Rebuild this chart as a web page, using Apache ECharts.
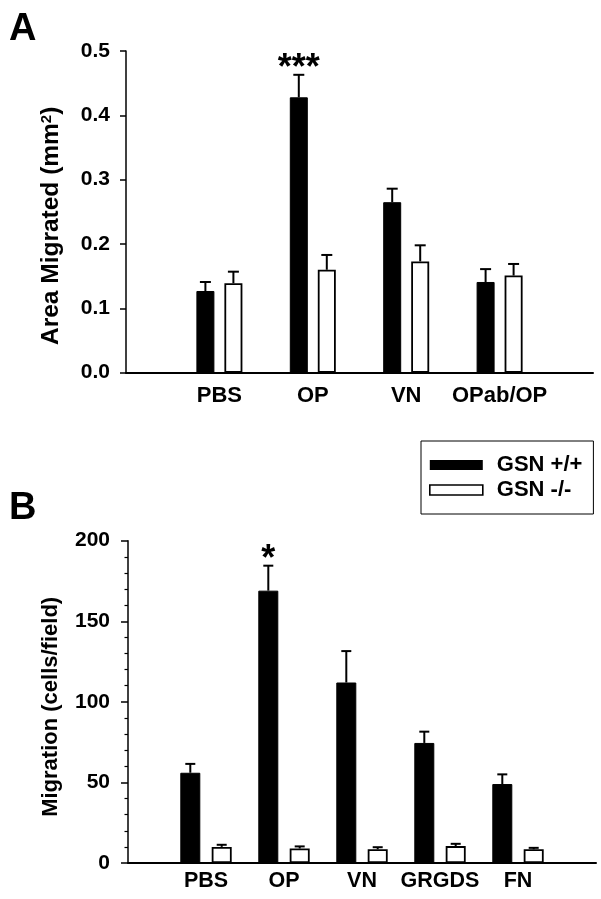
<!DOCTYPE html>
<html>
<head>
<meta charset="utf-8">
<script src="https://cdn.jsdelivr.net/npm/echarts@6/dist/echarts.min.js"></script>
<style>
html,body{margin:0;padding:0;background:#fff;}
#chart{width:601px;height:899px;}
</style>
</head>
<body>
<div id="chart"></div>
<script>
// ---- Panel A data ----
const catsA = ['PBS', 'OP', 'VN', 'OPab/OP'];
const wtA = [0.127, 0.428, 0.265, 0.141];
const wtAErr = [0.014, 0.035, 0.021, 0.020];
const koA = [0.139, 0.160, 0.173, 0.151];
const koAErr = [0.018, 0.023, 0.025, 0.018];
const sigA = ['', '***', '', ''];
// ---- Panel B data ----
const catsB = ['PBS', 'OP', 'VN', 'GRGDS', 'FN'];
const wtB = [56, 169, 112, 74.5, 49];
const wtBErr = [5.5, 15.5, 19.5, 7, 6];
const koB = [10, 9, 8.5, 10.5, 8.5];
const koBErr = [1.3, 1.3, 1.3, 1.4, 0.9];
const sigB = ['', '*', '', '', ''];
const seriesNames = ['GSN +/+', 'GSN -/-'];

const FONT = '"Liberation Sans", Arial, Helvetica, sans-serif';

function padCats(c) { return [''].concat(c, ['']); }
function padVals(v) { return ['-'].concat(v, ['-']); }
function errData(v, e) { return v.map((x, i) => [i + 1, x, e[i]]); }

function errSeries(xi, yi, vals, errs, offset, capW, sig) {
  return {
    type: 'custom', xAxisIndex: xi, yAxisIndex: yi, z: 5,
    data: errData(vals, errs),
    renderItem: function (params, api) {
      const i = api.value(0), v = api.value(1), e = api.value(2);
      const p0 = api.coord([i, v]);
      const p1 = api.coord([i, v + e]);
      const x = p0[0] + offset;
      const children = [
        { type: 'line', shape: { x1: x, y1: p0[1], x2: x, y2: p1[1] }, style: { stroke: '#000', lineWidth: 2 } },
        { type: 'line', shape: { x1: x - capW / 2, y1: p1[1], x2: x + capW / 2, y2: p1[1] }, style: { stroke: '#000', lineWidth: 2 } }
      ];
      const s = sig ? sig[params.dataIndex] : '';
      if (s) {
        children.push({ type: 'text', style: { text: s, x: x, y: p1[1] - 6, align: 'center', verticalAlign: 'middle', font: 'bold 36px ' + FONT, fill: '#000' } });
      }
      return { type: 'group', children: children };
    }
  };
}

const chart = echarts.init(document.getElementById('chart'), null, { renderer: 'canvas' });

const barWA = 18, gapA = 10;
const barWB = 20, gapB = 11.4;

const option = {
  backgroundColor: '#fff',
  animation: false,
  textStyle: { fontFamily: FONT },
  title: [
    { text: 'A', left: 4, top: 6, textStyle: { fontSize: 38, fontWeight: 'bold', color: '#000', fontFamily: FONT } },
    { text: 'B', left: 4, top: 485, textStyle: { fontSize: 38, fontWeight: 'bold', color: '#000', fontFamily: FONT } }
  ],
  legend: {
    orient: 'vertical', left: 421, top: 441,
    padding: [13, 11, 13, 8], itemGap: 3,
    borderColor: '#000', borderWidth: 1,
    itemWidth: 53, itemHeight: 10, icon: 'rect',
    textStyle: { fontSize: 22, fontWeight: 'bold', color: '#000', fontFamily: FONT, padding: [0, 0, 0, 9] },
    data: [
      { name: seriesNames[0], itemStyle: { color: '#000', borderColor: '#000', borderWidth: 0 } },
      { name: seriesNames[1], itemStyle: { color: '#fff', borderColor: '#000', borderWidth: 1.6 } }
    ]
  },
  grid: [
    { left: 126, right: 8, top: 51, height: 321.7 },
    { left: 128, right: 5, top: 540.7, height: 322.3 }
  ],
  xAxis: [
    {
      type: 'category', gridIndex: 0, data: padCats(catsA), boundaryGap: false,
      axisLine: { lineStyle: { color: '#000', width: 2 } },
      axisTick: { show: false },
      axisLabel: { interval: 0, margin: 12, fontSize: 22, fontWeight: 'bold', color: '#000', fontFamily: FONT }
    },
    {
      type: 'category', gridIndex: 1, data: padCats(catsB), boundaryGap: false,
      axisLine: { lineStyle: { color: '#000', width: 2 } },
      axisTick: { show: false },
      axisLabel: { interval: 0, margin: 7, fontSize: 21.5, fontWeight: 'bold', color: '#000', fontFamily: FONT }
    }
  ],
  yAxis: [
    {
      type: 'value', gridIndex: 0, min: 0, max: 0.5, interval: 0.1,
      name: 'Area Migrated (mm{sup|2})', nameLocation: 'middle', nameRotate: 90, nameGap: 62,
      nameTextStyle: { fontSize: 24.5, fontWeight: 'bold', color: '#000', fontFamily: FONT, padding: [0, 28, 0, 0],
        rich: { sup: { fontSize: 15, fontWeight: 'bold', color: '#000', fontFamily: FONT, verticalAlign: 'top', padding: [0, 0, 10, 0] } } },
      axisLine: { show: true, lineStyle: { color: '#000', width: 1.5 } },
      axisTick: { show: true, inside: false, length: 6, lineStyle: { color: '#000', width: 1.5 } },
      splitLine: { show: false },
      axisLabel: { margin: 16, fontSize: 21, fontWeight: 'bold', color: '#000', fontFamily: FONT, formatter: v => v.toFixed(1) }
    },
    {
      type: 'value', gridIndex: 1, min: 0, max: 200, interval: 50,
      name: 'Migration (cells/field)', nameLocation: 'middle', nameRotate: 90, nameGap: 66,
      nameTextStyle: { fontSize: 22, fontWeight: 'bold', color: '#000', fontFamily: FONT, padding: [0, 10, 0, 0] },
      axisLine: { show: true, lineStyle: { color: '#000', width: 1.5 } },
      axisTick: { show: true, inside: false, length: 7, lineStyle: { color: '#000', width: 1.5 } },
      minorTick: { show: true, splitNumber: 5, length: 3.5, lineStyle: { color: '#000', width: 1.2 } },
      splitLine: { show: false },
      axisLabel: { margin: 18, fontSize: 21, fontWeight: 'bold', color: '#000', fontFamily: FONT }
    }
  ],
  series: [
    { name: seriesNames[0], type: 'bar', xAxisIndex: 0, yAxisIndex: 0, data: padVals(wtA), barWidth: barWA, barGap: (gapA / barWA * 100) + '%',
      itemStyle: { color: '#000', borderColor: '#000', borderWidth: 1 } },
    { name: seriesNames[1], type: 'bar', xAxisIndex: 0, yAxisIndex: 0, data: padVals(koA), barWidth: barWA, barGap: (gapA / barWA * 100) + '%',
      itemStyle: { color: '#fff', borderColor: '#000', borderWidth: 1.8 } },
    { name: seriesNames[0], type: 'bar', xAxisIndex: 1, yAxisIndex: 1, data: padVals(wtB), barWidth: barWB, barGap: (gapB / barWB * 100) + '%',
      itemStyle: { color: '#000', borderColor: '#000', borderWidth: 1 } },
    { name: seriesNames[1], type: 'bar', xAxisIndex: 1, yAxisIndex: 1, data: padVals(koB), barWidth: barWB, barGap: (gapB / barWB * 100) + '%',
      itemStyle: { color: '#fff', borderColor: '#000', borderWidth: 1.8 } },
    errSeries(0, 0, wtA, wtAErr, -(barWA + gapA) / 2, 11, sigA),
    errSeries(0, 0, koA, koAErr, (barWA + gapA) / 2, 11, null),
    errSeries(1, 1, wtB, wtBErr, -(barWB + gapB) / 2, 10, sigB),
    errSeries(1, 1, koB, koBErr, (barWB + gapB) / 2, 10, null)
  ]
};
chart.setOption(option);
</script>
</body>
</html>
